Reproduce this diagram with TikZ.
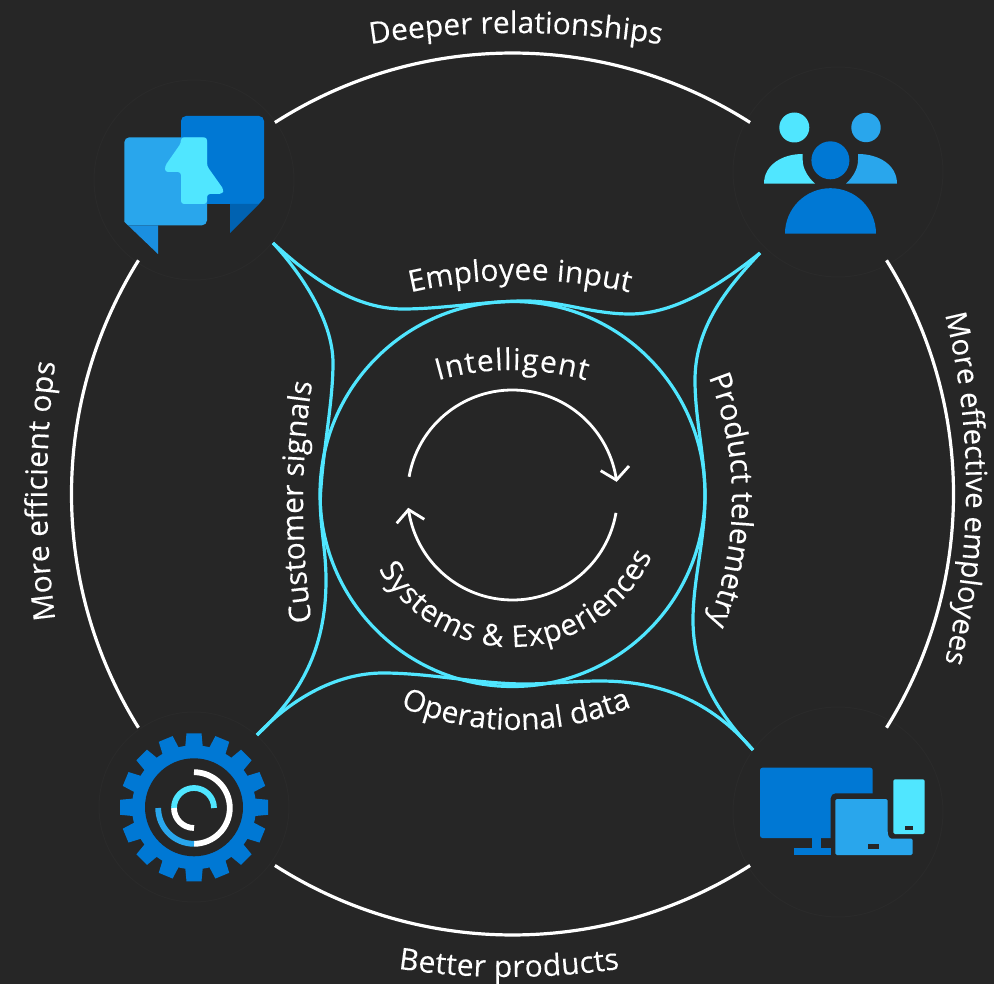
\documentclass[tikz,border=0pt]{standalone}
\usepackage{fontspec}
\setmainfont{Open Sans}[FakeBold=0.12]
\usetikzlibrary{decorations.text}
\definecolor{bgdark}{HTML}{262626}
\definecolor{halo}{HTML}{2A2A2A}
\definecolor{azcyan}{HTML}{50E6FF}
\definecolor{azlight}{HTML}{29A6EC}
\definecolor{azblue}{HTML}{0078D4}
\definecolor{aztailb}{HTML}{0062B1}
\definecolor{aztaill}{HTML}{1A8FE0}
\newcommand{\lblfont}{\fontsize{30}{30}\selectfont}
\newcommand{\lblfontb}{\fontsize{29.3}{30}\selectfont}
\tikzset{
  outerarc/.style={draw=white,line width=3.2pt},
  innerarc/.style={draw=white,line width=2.8pt},
  chevron/.style={draw=white,line width=2.8pt,line join=miter},
  cyanline/.style={draw=azcyan,line width=3.2pt},
  halocircle/.style={draw=halo,line width=1pt},
  curvelabel/.style={decorate,decoration={text along path,text color=white,text align={fit to path},text={|\lblfont|#1}}},
  curvelabelc/.style={decorate,decoration={text along path,text color=white,text align=center,text={|\lblfontb|#1}}},
}
\begin{document}
\begin{tikzpicture}[x=1pt,y=1pt]
\fill[bgdark] (0,0) rectangle (994,-984);
\useasboundingbox (0,0) rectangle (994,-984);
\clip (0,0) rectangle (994,-984);

% faint circles round the icons
\draw[halocircle] (194,-180) circle (100);
\draw[halocircle] (838,-172) circle (105);
\draw[halocircle] (194,-807) circle (95);
\draw[halocircle] (838,-812) circle (105);

% outer ring arcs
\draw[outerarc] ([shift={(512.5,-494)}]122.6:441) arc (122.6:57.4:441);
\draw[outerarc] ([shift={(512.5,-494)}]32:441) arc (32:-32:441);
\draw[outerarc] ([shift={(512.5,-494)}]-57.4:441) arc (-57.4:-122.6:441);
\draw[outerarc] ([shift={(512.5,-494)}]212:441) arc (212:148:441);

% inner circle
\draw[cyanline] (512.5,-494) circle (192.5);

% cyan star curves
\coordinate (cTL) at (273,-243);
\coordinate (cTR) at (760,-253);
\coordinate (cBR) at (753,-750);
\coordinate (cBL) at (257,-735);
\draw[cyanline] (cTL) .. controls (305,-272) and (350,-309) .. (403,-309)
  .. controls (440,-309) and (480,-302) .. (520,-301)
  .. controls (560,-300) and (590,-314) .. (630,-314)
  .. controls (675,-314) and (720,-285) .. (cTR);
\draw[cyanline] (cTL) .. controls (300,-272) and (333,-320) .. (333,-363)
  .. controls (333,-400) and (324,-445) .. (321,-487)
  .. controls (318,-520) and (326,-545) .. (326,-580)
  .. controls (326,-650) and (300,-695) .. (cBL);
\draw[cyanline] (cBL) .. controls (295,-695) and (340,-673) .. (383,-673)
  .. controls (430,-673) and (480,-684) .. (525,-684)
  .. controls (550,-684) and (575,-681) .. (600,-681)
  .. controls (660,-681) and (710,-700) .. (cBR);
\draw[cyanline] (cTR) .. controls (730,-285) and (695,-325) .. (695,-380)
  .. controls (695,-420) and (705,-455) .. (705,-497)
  .. controls (705,-540) and (693,-580) .. (693,-620)
  .. controls (693,-680) and (725,-720) .. (cBR);

% inner cycle arrows
\draw[innerarc] ([shift={(512.5,-495)}]170:105) arc (170:8.2:105) coordinate (tipA);
\draw[chevron] (600.7,-470.7) -- (tipA) -- (629,-466);
\draw[innerarc] ([shift={(512.5,-495)}]-9.8:105) arc (-9.8:-172:105) coordinate (tipB);
\draw[chevron] (396.7,-523.3) -- (tipB) -- (424.3,-519.3);

% labels
\path[curvelabel={Deeper relationships}] ([shift={(515,-983)}]98.75:950) arc (98.75:81.25:950);
\path[curvelabelc={More effective employees}] ([shift={(236,-488.5)}]20:730) arc (20:-20:730);
\path[curvelabel={Better products}] ([shift={(509,-227)}]261.5:750) arc (261.5:278.5:750);
\path[curvelabel={More efficient ops}] ([shift={(1047,-491)}]187.4:1000) arc (187.4:172.6:1000);
\path[curvelabel={Employee input}] ([shift={(520,-770)}]102.9:490) arc (102.9:77.1:490);
\path[curvelabel={Operational data}] ([shift={(516,-430)}]247.3:300) arc (247.3:292.7:300);
\path[curvelabel={Customer signals}] ([shift={(1103,-503.5)}]188.5:800) arc (188.5:171.5:800);
\path[curvelabel={Product telemetry}] ([shift={(402,-499)}]21.7:330) arc (21.7:-21.7:330);
\path[curvelabel={Intelligent}] ([shift={(512,-640)}]105.9:270) arc (105.9:74.1:270);
\path[curvelabel={Systems {\&} Experiences}] ([shift={(512,-494)}]209.4:153) arc (209.4:336.3:153);

% speech-bubble icon
\fill[azblue] (259,-204) [rounded corners=5pt] -- (181,-204) -- (181,-116) -- (264,-116) [sharp corners] -- (264,-198) -- cycle;
\fill[aztailb] (230,-204) -- (230,-233) -- (259,-204) -- cycle;
\fill[azlight] (124.3,-221.7) [rounded corners=5pt] -- (124.3,-137.3) -- (207,-137.3) -- (207,-225.3) [sharp corners] -- (128,-225.3) -- cycle;
\fill[aztaill] (128,-225.3) -- (158,-254) -- (158,-225.3) -- cycle;
\fill[azcyan,rounded corners=3pt] (181,-137.3) -- (207,-137.3) -- (207,-166) -- (224,-190) -- (222,-194) -- (207,-194) -- (207,-204) -- (181,-204) -- (181,-172) -- (165,-172) -- (165,-166) -- (181,-143) -- cycle;

% people icon
\fill[azcyan] (794.3,-127.5) circle (15);
\fill[azlight] (866,-127.5) circle (14.7);
\fill[azblue] (830.4,-160.3) circle (19);
\fill[azcyan] (764,-183.7) .. controls (764,-165) and (782,-154) .. (802.7,-154) -- (802.7,-160) .. controls (802.7,-169) and (808,-177) .. (815,-183.7) -- cycle;
\fill[azlight] (897,-183.7) .. controls (897,-165) and (879,-154) .. (858,-154) -- (858,-160) .. controls (858,-169) and (853,-177) .. (846,-183.7) -- cycle;
\fill[azblue] (785,-233.7) arc (180:0:45.5) -- cycle;

% gear icon
\foreach \a in {0,22.5,...,337.5}{
  \fill[azblue,rotate around={\a:(194,-807.3)}] (185,-807.3+58) -- (186.5,-807.3+74) -- (201.5,-807.3+74) -- (203,-807.3+58) -- cycle;
}
\fill[azblue] (194,-807.3) circle (62);
\fill[bgdark] (194,-807.3) circle (49);
\draw[white,line width=5.8pt] ([shift={(194,-808)}]90:35.8) arc (90:-90:35.8);
\draw[azlight,line width=5.8pt] ([shift={(194,-808)}]-90:35.8) arc (-90:-180:35.8);
\draw[azcyan,line width=5.8pt] ([shift={(194,-808)}]0:20) arc (0:180:20);
\draw[white,line width=5.8pt] ([shift={(194,-808)}]180:20) arc (180:270:20);

% devices icon
\fill[azblue,rounded corners=2.5pt] (760,-767.7) rectangle (872.7,-838);
\fill[azblue] (811.7,-838) rectangle (820.7,-848);
\fill[azblue] (794.3,-848) rectangle (830.7,-855);
\fill[bgdark,rounded corners=5pt] (830.7,-793.3) -- (885,-793.3) -- (885,-860) -- (830.7,-860) -- cycle;
\fill[bgdark] (872.7,-793.3) rectangle (890,-840);
\fill[azblue] (810,-848) rectangle (830.7,-855);
\fill[azlight,rounded corners=1.5pt] (835.3,-799) -- (887.7,-799) -- (887.7,-830) .. controls (887.7,-835) and (889,-838.7) .. (893.3,-838.7) -- (912.7,-838.7) -- (912.7,-855) -- (835.3,-855) -- cycle;
\fill[bgdark] (868,-844) rectangle (879.3,-849.3);
\fill[azcyan,rounded corners=1.5pt] (893.3,-779.3) rectangle (924.7,-834);
\fill[bgdark] (905,-826) rectangle (913,-830);
\end{tikzpicture}
\end{document}
